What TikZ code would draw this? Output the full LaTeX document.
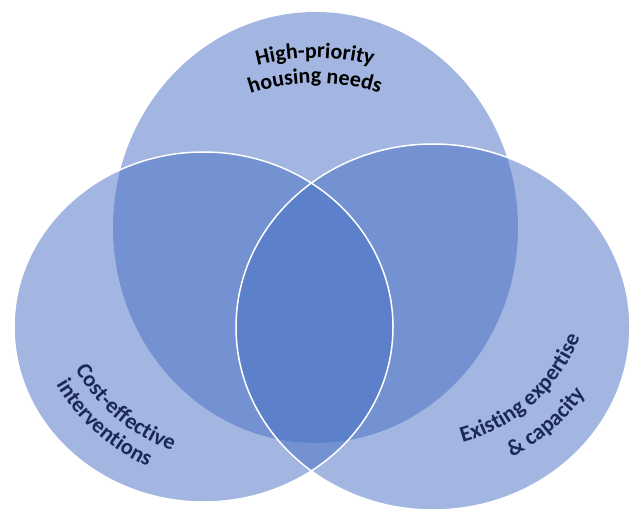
\documentclass[tikz,border=0pt]{standalone}
\usepackage{fontspec}
\setmainfont{Carlito}
\usetikzlibrary{decorations.text}
\definecolor{vennblue}{RGB}{70,110,195}
\definecolor{labelnavy}{RGB}{28,40,88}
\tikzset{
  venn/.style={fill=vennblue, fill opacity=0.5},
  rim/.style={draw=white, line width=1.5pt},
  curvetext/.style={decorate, decoration={text along path, text align=center, text={#1}}}
}
\begin{document}
\begin{tikzpicture}[x=1pt, y=1pt]
\useasboundingbox (0,0) rectangle (636,509);
\clip (0,0) rectangle (636,509);
\coordinate (needs) at (315.5,281.5);
\coordinate (cost) at (203.5,182);
\coordinate (expert) at (433,182);
% the three sets
\path[venn] (needs) ellipse[x radius=202.5pt, y radius=215.5pt];
\path[venn] (cost) ellipse[x radius=189.5pt, y radius=175pt];
\path[venn] (expert) ellipse[x radius=197pt, y radius=183pt];
\path[rim] (cost) ellipse[x radius=189.5pt, y radius=175pt];
\path[rim] (expert) ellipse[x radius=197pt, y radius=183pt];
% labels on arcs
\coordinate (needsarc) at (315,226);
\coordinate (costarc) at (232,228);
\coordinate (expertarc) at (416,236);
\path[curvetext={|\fontsize{22}{26}\selectfont\bfseries|High-priority}]
  ([shift={(130:225pt)}]needsarc) arc[start angle=130, end angle=50, radius=225pt];
\path[curvetext={|\fontsize{22}{26}\selectfont\bfseries|housing needs}]
  ([shift={(130:200pt)}]needsarc) arc[start angle=130, end angle=50, radius=200pt];
\path[curvetext={|\color{labelnavy}\fontsize{22.5}{26}\selectfont\bfseries|Cost-effective}]
  ([shift={(185:180pt)}]costarc) arc[start angle=185, end angle=275, radius=180pt];
\path[curvetext={|\color{labelnavy}\fontsize{22.5}{26}\selectfont\bfseries|interventions}]
  ([shift={(183:204pt)}]costarc) arc[start angle=183, end angle=273, radius=204pt];
\path[curvetext={|\color{labelnavy}\fontsize{22.5}{26}\selectfont\bfseries|Existing expertise}]
  ([shift={(-93:176pt)}]expertarc) arc[start angle=-93, end angle=-3, radius=176pt];
\path[curvetext={|\color{labelnavy}\fontsize{22.5}{26}\selectfont\bfseries|{\&} capacity}]
  ([shift={(-94:208pt)}]expertarc) arc[start angle=-94, end angle=-4, radius=208pt];
\end{tikzpicture}
\end{document}
